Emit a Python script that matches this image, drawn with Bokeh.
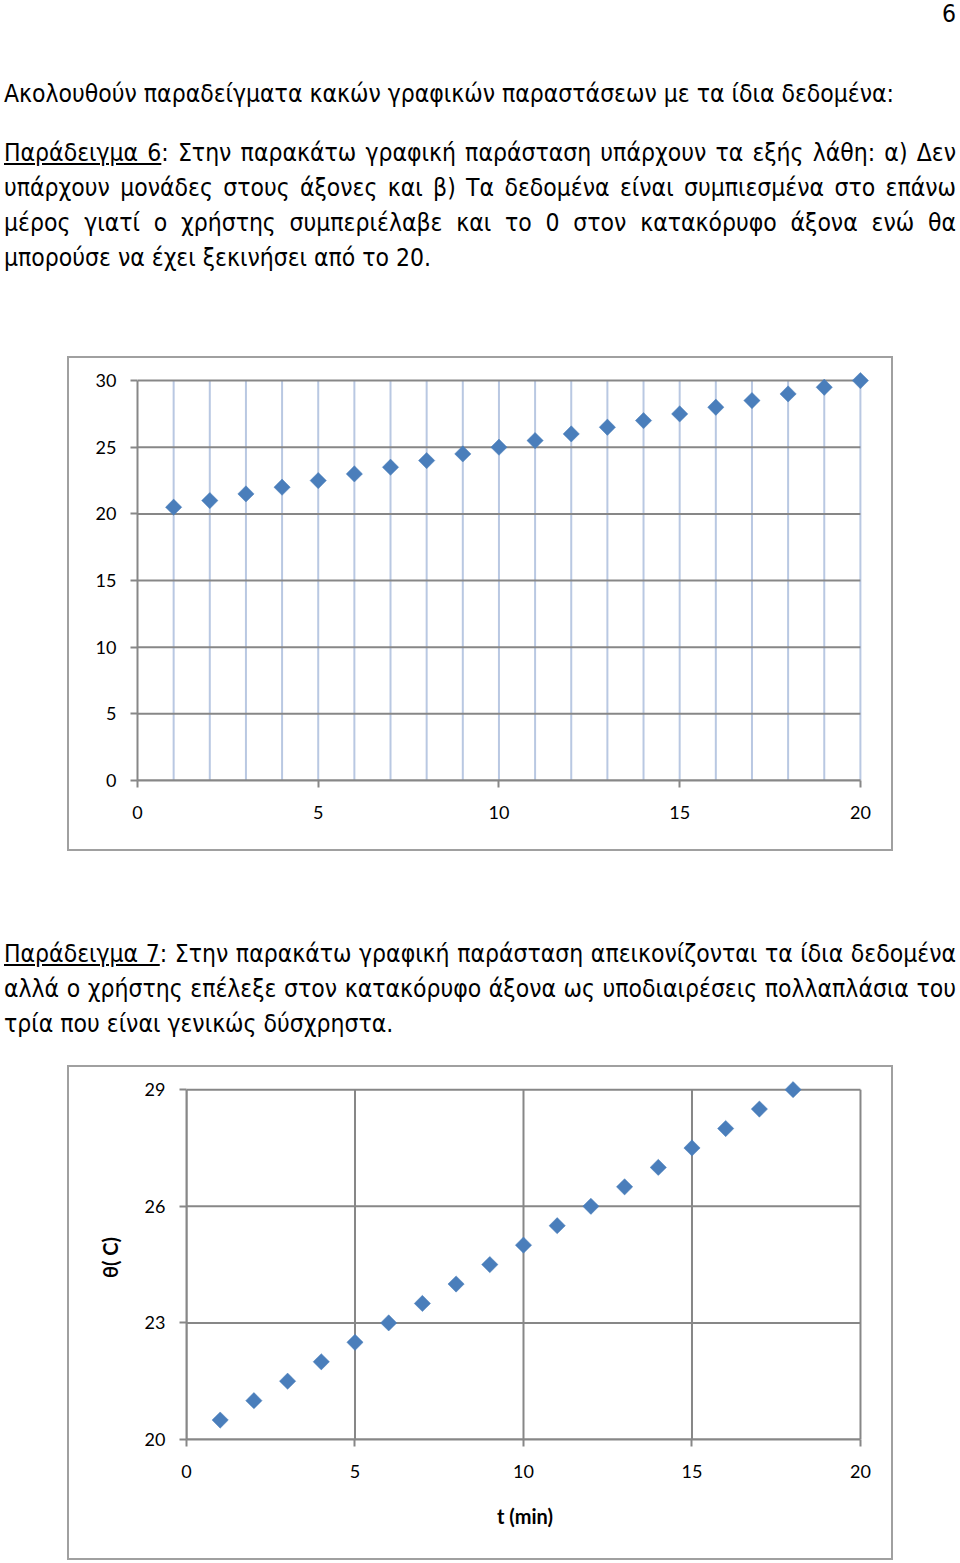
import math
from bokeh.plotting import figure
from bokeh.models import Div, FixedTicker, Range1d
from bokeh.layouts import column
from bokeh.embed import file_html
from bokeh.resources import INLINE

# ---------------- data ----------------
t1 = [1, 2, 3, 4, 5, 6, 7, 8, 9, 10, 11, 12, 13, 14, 15, 16, 17, 18, 19, 20]
theta1 = [20.5, 21, 21.5, 22, 22.5, 23, 23.5, 24, 24.5, 25,
          25.5, 26, 26.5, 27, 27.5, 28, 28.5, 29, 29.5, 30]
x_ticks1 = [0, 5, 10, 15, 20]
y_ticks1 = [0, 5, 10, 15, 20, 25, 30]
x_minor_grid1 = [1, 2, 3, 4, 5, 6, 7, 8, 9, 10, 11, 12, 13, 14, 15, 16, 17, 18, 19, 20]

t2 = [1, 2, 3, 4, 5, 6, 7, 8, 9, 10, 11, 12, 13, 14, 15, 16, 17, 18]
theta2 = [20.5, 21, 21.5, 22, 22.5, 23, 23.5, 24, 24.5, 25,
          25.5, 26, 26.5, 27, 27.5, 28, 28.5, 29]
x_ticks2 = [0, 5, 10, 15, 20]
y_ticks2 = [20, 23, 26, 29]
x_label2 = "t (min)"
y_label2 = "θ( C)"

page_number = "6"
intro = "Ακολουθούν παραδείγματα κακών γραφικών παραστάσεων με τα ίδια δεδομένα:"
ex6_title = "Παράδειγμα 6"
ex6_lines = [
    ": Στην παρακάτω γραφική παράσταση υπάρχουν τα εξής λάθη: α) Δεν",
    "υπάρχουν μονάδες στους άξονες και β) Τα δεδομένα είναι συμπιεσμένα στο επάνω",
    "μέρος γιατί ο χρήστης συμπεριέλαβε και το 0 στον κατακόρυφο άξονα ενώ θα",
    "μπορούσε να έχει ξεκινήσει από το 20.",
]
ex7_title = "Παράδειγμα 7"
ex7_lines = [
    ": Στην παρακάτω γραφική παράσταση απεικονίζονται τα ίδια δεδομένα",
    "αλλά ο χρήστης επέλεξε στον κατακόρυφο άξονα ως υποδιαιρέσεις πολλαπλάσια του",
    "τρία που είναι γενικώς δύσχρηστα.",
]

# ---------------- styles ----------------
TEXT_FONT = "'DejaVu Sans Condensed', 'DejaVu Sans', sans-serif"
FS = 24.5
LH = 35
GRID = "#878787"
BLUE_GRID = "#b9c8e2"
MARK = "#4a7ebb"
BORDER = "#a0a0a0"


def text_line(html, center_y, justify, left=4, width=952, align="left"):
    top = center_y - LH / 2
    js = "text-align:justify;text-align-last:justify;" if justify else f"text-align:{align};"
    return (f'<div style="position:absolute;left:{left}px;top:{top}px;width:{width}px;'
            f'height:{LH}px;line-height:{LH}px;white-space:nowrap;{js}">{html}</div>')


def block(lines_html, height):
    inner = "".join(lines_html)
    return Div(text=(f'<div style="position:relative;width:960px;height:{height}px;'
                     f'font-family:{TEXT_FONT};font-size:{FS}px;color:#000;">{inner}</div>'),
               width=960, height=height, margin=0)


u = lambda s: f'<span style="text-decoration:underline;">{s}</span>'

div1_lines = [text_line(page_number, 13, False, left=900, width=56, align="right"),
              text_line(intro, 93, False)]
centers6 = [152, 187, 222, 257]
for i, ln in enumerate(ex6_lines):
    html = (u(ex6_title) + ln) if i == 0 else ln
    div1_lines.append(text_line(html, centers6[i], i < len(ex6_lines) - 1))
div1 = block(div1_lines, 356)

centers7 = [953 - 851, 988 - 851, 1023 - 851]
div2_lines = []
for i, ln in enumerate(ex7_lines):
    html = (u(ex7_title) + ln) if i == 0 else ln
    div2_lines.append(text_line(html, centers7[i], i < len(ex7_lines) - 1))
div2 = block(div2_lines, 214)


def style_axes(p):
    for ax in (p.xaxis[0], p.yaxis[0]):
        ax.axis_line_color = GRID
        ax.axis_line_width = 2
        ax.major_tick_line_color = GRID
        ax.major_tick_line_width = 2
        ax.major_tick_out = 7
        ax.major_tick_in = 0
        ax.minor_tick_line_color = None
        ax.major_label_text_font = "Lato"
        ax.major_label_text_font_size = "18px"
        ax.major_label_text_color = "#000000"
    p.yaxis[0].major_label_standoff = 14
    p.xaxis[0].major_label_standoff = 18
    p.xgrid.visible = False
    p.ygrid.visible = False
    p.outline_line_color = None
    if "frame_align" in p.properties():
        p.frame_align = False


# ---------------- chart 1 ----------------
ppx1 = 719 / 20
ppy1 = 396 / 30
fw1 = round(20.5 * ppx1)
fh1 = round(30.7 * ppy1)
p1 = figure(frame_width=fw1, frame_height=fh1,
            x_range=Range1d(0, fw1 / ppx1), y_range=Range1d(0, fh1 / ppy1),
            min_border_left=68, min_border_right=822 - 68 - fw1,
            min_border_top=13, min_border_bottom=491 - 13 - fh1,
            output_backend="svg", toolbar_location=None,
            margin=0,
            styles={"border": f"2px solid {BORDER}"})
style_axes(p1)
p1.xaxis[0].ticker = FixedTicker(ticks=x_ticks1)
p1.yaxis[0].ticker = FixedTicker(ticks=y_ticks1)
p1.xaxis[0].bounds = (min(x_ticks1), max(x_ticks1))
p1.yaxis[0].bounds = (min(y_ticks1), max(y_ticks1))
p1.segment(x0=x_minor_grid1, x1=x_minor_grid1,
           y0=[min(y_ticks1)] * len(x_minor_grid1), y1=[max(y_ticks1)] * len(x_minor_grid1),
           line_color=BLUE_GRID, line_width=2)
p1.segment(x0=[min(x_ticks1)] * len(y_ticks1), x1=[max(x_ticks1)] * len(y_ticks1),
           y0=y_ticks1, y1=y_ticks1, line_color=GRID, line_width=2)
p1.scatter(t1, theta1, marker="square", size=11.5, angle=math.pi / 4,
           fill_color=MARK, line_color=MARK, line_width=0.5)

# ---------------- chart 2 ----------------
ppx2 = 670 / 20
ppy2 = 346 / 9
fw2 = round(20.1 * ppx2)
fh2 = 360
p2 = figure(frame_width=fw2, frame_height=fh2,
            x_range=Range1d(0, fw2 / ppx2), y_range=Range1d(20, 20 + fh2 / ppy2),
            min_border_left=117, min_border_right=822 - 117 - fw2,
            min_border_top=8, min_border_bottom=491 - 8 - fh2,
            output_backend="svg", toolbar_location=None,
            margin=0,
            styles={"border": f"2px solid {BORDER}"})
style_axes(p2)
p2.xaxis[0].ticker = FixedTicker(ticks=x_ticks2)
p2.yaxis[0].ticker = FixedTicker(ticks=y_ticks2)
p2.xaxis[0].bounds = (min(x_ticks2), max(x_ticks2))
p2.yaxis[0].bounds = (min(y_ticks2), max(y_ticks2))
p2.xaxis[0].axis_label = x_label2
p2.yaxis[0].axis_label = y_label2
for ax in (p2.xaxis[0], p2.yaxis[0]):
    ax.axis_label_text_font = "Lato"
    ax.axis_label_text_font_size = "20px"
    ax.axis_label_text_font_style = "bold"
    ax.axis_label_text_color = "#000000"
p2.xaxis[0].axis_label_standoff = 23
p2.yaxis[0].axis_label_standoff = 20
p2.segment(x0=x_ticks2, x1=x_ticks2,
           y0=[min(y_ticks2)] * len(x_ticks2), y1=[max(y_ticks2)] * len(x_ticks2),
           line_color=GRID, line_width=2)
p2.segment(x0=[min(x_ticks2)] * len(y_ticks2), x1=[max(x_ticks2)] * len(y_ticks2),
           y0=y_ticks2, y1=y_ticks2, line_color=GRID, line_width=2)
p2.scatter(t2, theta2, marker="square", size=11.5, angle=math.pi / 4,
           fill_color=MARK, line_color=MARK, line_width=0.5)

wrap1 = column(p1, margin=(0, 0, 0, 67))
wrap2 = column(p2, margin=(0, 0, 0, 67))
layout = column(div1, wrap1, div2, wrap2, spacing=0, margin=0)
open("out.html", "w").write(file_html(layout, INLINE))
